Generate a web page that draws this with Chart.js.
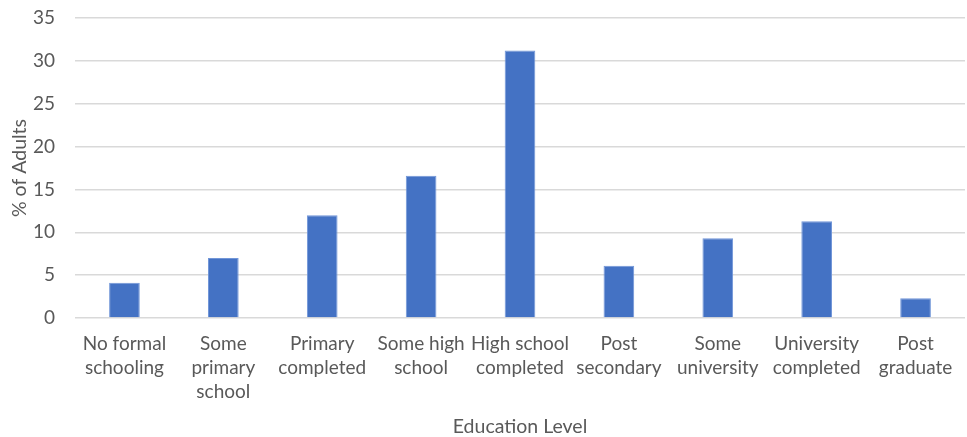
<!DOCTYPE html>
<html>
<head>
<meta charset="utf-8">
<script src="https://cdn.jsdelivr.net/npm/chart.js@4/dist/chart.umd.min.js"></script>
<style>
  html, body { margin: 0; padding: 0; background: #ffffff; }
  #wrap { width: 967px; height: 437px; }
</style>
</head>
<body>
<div id="wrap"><canvas id="chart" width="967" height="437"></canvas></div>
<script>
// Share of adults by highest education level reached
const categories = [
  ["No formal", "schooling"],
  ["Some", "primary", "school"],
  ["Primary", "completed"],
  ["Some high", "school"],
  ["High school", "completed"],
  ["Post", "secondary"],
  ["Some", "university"],
  ["University", "completed"],
  ["Post", "graduate"]
];
const percentAdults = [4.1, 7.0, 12.0, 16.6, 31.2, 6.1, 9.3, 11.3, 2.3];
const yTicks = { min: 0, max: 35, step: 5 };

const textColor = "#595959";
const fontFamily = "Lato, 'Open Sans', sans-serif";

new Chart(document.getElementById("chart"), {
  type: "bar",
  data: {
    labels: categories,
    datasets: [{
      label: "% of Adults",
      data: percentAdults,
      backgroundColor: "#4472C4",
      borderColor: "#7196d8",
      borderWidth: 1,
      categoryPercentage: 1.0,
      barPercentage: 0.31
    }]
  },
  options: {
    responsive: false,
    animation: false,
    layout: { padding: { top: 18, right: 2, left: 0, bottom: 0 } },
    plugins: {
      legend: { display: false },
      tooltip: { enabled: false }
    },
    scales: {
      x: {
        grid: { display: false, drawTicks: false },
        border: { display: false },
        ticks: {
          color: textColor,
          font: { family: fontFamily, size: 19, lineHeight: "24px" },
          padding: 14,
          maxRotation: 0,
          autoSkip: false
        },
        title: {
          display: true,
          text: "Education Level",
          color: textColor,
          font: { family: fontFamily, size: 19.5, lineHeight: "20px" },
          padding: { top: 13, bottom: 0 }
        },
        afterFit(scale) {
          scale.height = 119;
          scale.paddingLeft = 0;
          scale.paddingRight = 0;
        }
      },
      y: {
        min: yTicks.min,
        max: yTicks.max,
        grid: { color: "#d9d9d9", lineWidth: 1.5, drawTicks: false },
        border: { display: false },
        ticks: {
          stepSize: yTicks.step,
          color: textColor,
          font: { family: fontFamily, size: 19 },
          padding: 20
        },
        title: {
          display: true,
          text: "% of Adults",
          color: textColor,
          font: { family: fontFamily, size: 19.5, lineHeight: "24px" },
          padding: { top: 8, bottom: 0 }
        },
        afterFit(scale) {
          scale.width = 75;
          scale.paddingTop = 0;
          scale.paddingBottom = 0;
        }
      }
    }
  }
});
</script>
</body>
</html>
